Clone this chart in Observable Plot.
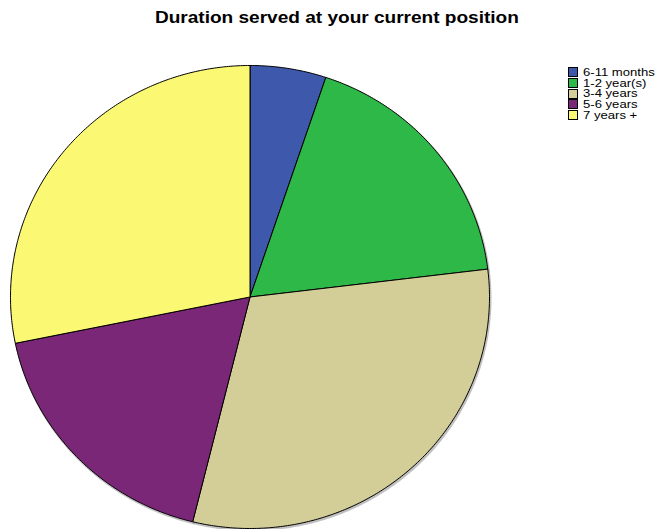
<!DOCTYPE html>
<html>
<head>
<meta charset="utf-8">
<script src="https://cdn.jsdelivr.net/npm/d3@7"></script>
<script src="https://cdn.jsdelivr.net/npm/@observablehq/plot@0.6"></script>
<style>
  body { margin: 0; background: #fff; font-family: Arial, "Liberation Sans", sans-serif; }
  #wrap { position: relative; width: 657px; height: 529px; overflow: hidden; }
  #title { position: absolute; left: 0; width: 673px; top: 9px; text-align: center; font-weight: bold; font-size: 16px; color: #000; z-index: 2; }
  #title span { display: inline-block; transform: scaleX(1.19); transform-origin: center; }
  #legend { position: absolute; left: 568px; top: 67px; font-size: 11px; line-height: 10.7px; color: #000; z-index: 2; }
  .item { display: flex; align-items: center; height: 10.7px; white-space: nowrap; }
  .sw { width: 10px; height: 10px; border: 1px solid #000; box-sizing: border-box; margin-right: 5px; flex: none; }
  .tx { display: inline-block; transform: scaleX(1.19); transform-origin: left center; }
  svg { position: absolute; left: 0; top: 0; }
</style>
</head>
<body>
<div id="wrap">
  <div id="title"><span>Duration served at your current position</span></div>
  <div id="legend"></div>
</div>
<script>
const labels = ["6-11 months", "1-2 year(s)", "3-4 years", "5-6 years", "7 years +"];
const counts = [2, 7, 12, 7, 11];
const colors = ["#3e58ac", "#2eb848", "#d3ce97", "#7b2777", "#fbf873"];

const arcs = d3.pie().sort(null).value(d => d)(counts);
const pts = [];
arcs.forEach((a, i) => {
  const label = labels[i];
  pts.push({label, x: 0, y: 0});
  const n = Math.max(4, Math.ceil((a.endAngle - a.startAngle) / 0.01));
  for (let k = 0; k <= n; k++) {
    const t = a.startAngle + (a.endAngle - a.startAngle) * k / n;
    pts.push({label, x: Math.sin(t), y: Math.cos(t)});
  }
  pts.push({label, x: 0, y: 0});
});

const chart = Plot.plot({
  width: 657,
  height: 529,
  margin: 0,
  style: {background: "transparent", overflow: "visible"},
  x: {domain: [-1, 1], range: [10, 489], axis: null},
  y: {domain: [-1, 1], range: [528, 65], axis: null},
  color: {domain: labels, range: colors},
  marks: [
    Plot.line(pts, {x: "x", y: "y", z: "label", fill: "#888", stroke: "#999", strokeWidth: 2, dx: 1, dy: 1.5, opacity: 0.6}),
    Plot.line(pts, {x: "x", y: "y", z: "label", fill: "label", stroke: "#000", strokeWidth: 1, strokeLinejoin: "round"})
  ]
});
const wrap = document.getElementById("wrap");
wrap.insertBefore(chart, wrap.firstChild);

const legend = document.getElementById("legend");
labels.forEach((l, i) => {
  const it = document.createElement("div");
  it.className = "item";
  const sw = document.createElement("span");
  sw.className = "sw";
  sw.style.background = colors[i];
  const tx = document.createElement("span");
  tx.className = "tx";
  tx.textContent = l;
  it.appendChild(sw);
  it.appendChild(tx);
  legend.appendChild(it);
});
</script>
</body>
</html>
